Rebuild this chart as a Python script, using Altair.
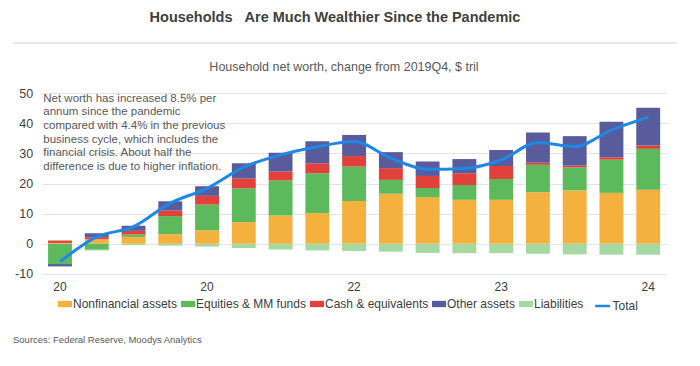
import json
import altair as alt
import pandas as pd

# ---------------- data ----------------
quarters = ["2020Q1", "2020Q2", "2020Q3", "2020Q4", "2021Q1", "2021Q2", "2021Q3", "2021Q4",
            "2022Q1", "2022Q2", "2022Q3", "2022Q4", "2023Q1", "2023Q2", "2023Q3", "2023Q4", "2024Q1"]
tick_labels = ["20", "", "", "", "20", "", "", "", "22", "", "", "", "23", "", "", "", "24"]
y_ticks = [-10, 0, 10, 20, 30, 40, 50]

series = ["Nonfinancial assets", "Equities & MM funds", "Cash & equivalents", "Other assets", "Liabilities"]
colors = ["#F4B13E", "#5DBA5C", "#E0413A", "#585C9D", "#A5D9A1"]

nonfinancial = [0.3, 1.5, 2.3, 3.2, 4.5, 7.2, 9.4, 10.2, 14.2, 16.6, 15.5, 14.6, 14.6, 17.1, 17.7, 16.9, 17.9]
equities = [-6.7, -2.0, 0.8, 6.0, 8.5, 11.2, 11.6, 13.2, 11.4, 4.6, 3.0, 4.9, 6.9, 9.1, 7.6, 11.0, 13.6]
cash = [0.8, 0.7, 1.2, 1.9, 2.9, 3.3, 3.0, 3.3, 3.5, 3.9, 4.0, 3.9, 4.3, 0.7, 0.6, 0.8, 1.1]
other = [-0.8, 1.3, 1.7, 3.0, 3.2, 5.0, 6.2, 7.3, 7.0, 5.3, 4.8, 4.7, 5.3, 10.0, 9.8, 11.8, 12.5]
liabilities = [-0.1, -0.2, -0.4, -0.6, -0.9, -1.4, -1.9, -2.2, -2.4, -2.6, -3.0, -3.1, -3.1, -3.3, -3.5, -3.6, -3.6]
total = [-5.9, 2.3, 5.7, 13.5, 18.4, 25.4, 29.5, 32.2, 33.9, 28.4, 24.7, 25.0, 27.8, 33.6, 32.2, 37.7, 42.0]

title_text = "Households\u00a0\u00a0\u00a0Are Much Wealthier Since the Pandemic"
subtitle_text = "Household net worth, change from 2019Q4, $ tril"
source_text = "Sources: Federal Reserve, Moodys Analytics"
annotation_lines = [
    "Net worth has increased 8.5% per",
    "annum since the pandemic",
    "compared with 4.4% in the previous",
    "business cycle, which includes the",
    "financial crisis. About half the",
    "difference is due to higher inflation.",
]

# ---------------- tables ----------------
rows = []
for k, (name, vals) in enumerate(zip(series, [nonfinancial, equities, cash, other, liabilities])):
    for q, v in zip(quarters, vals):
        rows.append({"quarter": q, "series": name, "value": v, "ord": k})
bars_df = pd.DataFrame(rows)
total_df = pd.DataFrame({"quarter": quarters, "total": total, "name": ["Total"] * len(quarters)})
one = pd.DataFrame({"k": [0]})

# ---------------- layout constants ----------------
W, H = 625, 181
X0, Y0 = 41.6, 93  # page position of the plot origin
TXT = "#404040"
TXT2 = "#595959"

label_expr = "{}[indexof({}, datum.value)]".format(json.dumps(tick_labels), json.dumps(quarters))

x_scale = alt.Scale(domain=quarters, paddingInner=0.35, paddingOuter=0.175)
y_scale = alt.Scale(domain=[-10, 50], nice=False, zero=False)
x_axis = alt.Axis(title=None, domain=False, ticks=False, grid=False, labelAngle=0,
                  labelExpr=label_expr, labelFontSize=12, labelColor=TXT, labelPadding=8,
                  labelOverlap=False)
y_axis = alt.Axis(title=None, values=y_ticks, domain=False, ticks=False,
                  labelPadding=9, labelFontSize=12.5, labelColor=TXT,
                  labelExpr="'' + datum.value", labelOverlap=False, labelBound=False,
                  labelFlush=False, gridColor="#e3e3e3", gridWidth=1)

bars = alt.Chart(bars_df).mark_bar().encode(
    x=alt.X("quarter:N", sort=quarters, scale=x_scale, axis=x_axis),
    y=alt.Y("value:Q", stack="zero", scale=y_scale, axis=y_axis),
    color=alt.Color("series:N", scale=alt.Scale(domain=series, range=colors),
                    legend=alt.Legend(title=None, orient="none", legendX=16.4, legendY=204,
                                      direction="horizontal", columns=5,
                                      symbolType="M-1,-0.45H1V0.45H-1Z", symbolSize=196,
                                      symbolStrokeWidth=0, labelFontSize=12, labelColor=TXT,
                                      columnPadding=3, labelOffset=1, padding=0)),
    order=alt.Order("ord:Q", sort="ascending"),
)

line = alt.Chart(total_df).mark_line(interpolate="monotone", strokeWidth=3).encode(
    x=alt.X("quarter:N", sort=quarters, scale=x_scale, axis=x_axis),
    y=alt.Y("total:Q", scale=y_scale, axis=y_axis),
    stroke=alt.Stroke("name:N", scale=alt.Scale(domain=["Total"], range=["#1F88E5"]),
                      legend=alt.Legend(title=None, orient="none", legendX=552, legendY=204,
                                        symbolType="stroke", symbolSize=225, symbolStrokeWidth=2.5,
                                        labelFontSize=12, labelColor=TXT, labelOffset=1, padding=0)),
)

annotation = alt.Chart(one).mark_text(
    text=annotation_lines, align="left", baseline="top", fontSize=11.5, lineHeight=13.7, color=TXT2
).encode(x=alt.value(43.3 - X0), y=alt.value(92.5 - Y0))

title = alt.Chart(one).mark_text(
    text=title_text, align="center", baseline="middle", fontSize=14.5, fontWeight="bold", color=TXT
).encode(x=alt.value(335 - X0), y=alt.value(18 - Y0))

rule = alt.Chart(one).mark_rule(color="#d4d4d4", strokeWidth=1.2).encode(
    x=alt.value(13 - X0), x2=alt.value(677 - X0), y=alt.value(43 - Y0))

subtitle = alt.Chart(one).mark_text(
    text=subtitle_text, align="center", baseline="middle", fontSize=12.5, color=TXT2
).encode(x=alt.value(344 - X0), y=alt.value(67 - Y0))

source = alt.Chart(one).mark_text(
    text=source_text, align="left", baseline="middle", fontSize=9.5, color=TXT2
).encode(x=alt.value(13 - X0), y=alt.value(340 - Y0))

chart = alt.layer(bars, line, annotation, title, rule, subtitle, source).resolve_legend(
    color="independent", stroke="independent"
).properties(
    width=W, height=H,
    autosize=alt.AutoSizeParams(type="none"),
    padding={"left": X0 - 8, "top": Y0 - 8, "right": 25, "bottom": 76},
).configure(font="Liberation Sans").configure_view(stroke=None)

chart.save("out.html", embed_options={"renderer": "svg", "actions": False})
